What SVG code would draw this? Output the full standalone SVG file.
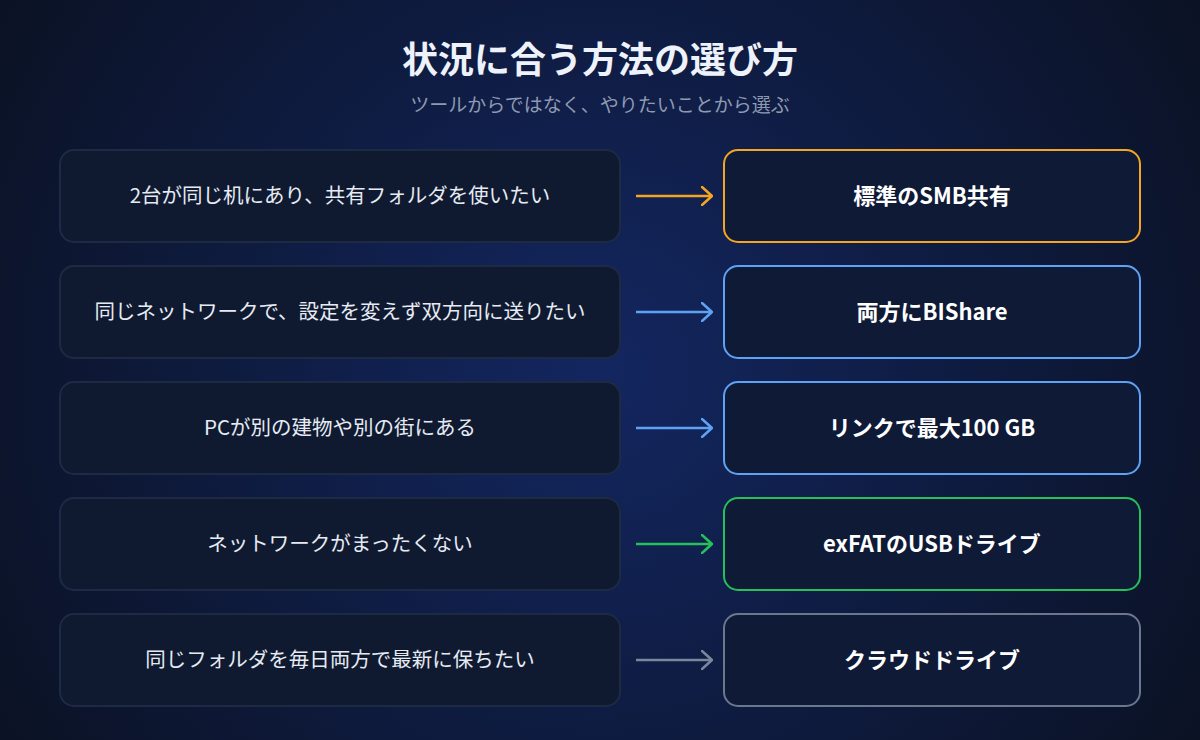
<svg xmlns="http://www.w3.org/2000/svg" width="1200" height="740" viewBox="0 0 1200 740">
<defs>
<radialGradient id="bg" cx="600" cy="370" r="700" gradientUnits="userSpaceOnUse">
<stop offset="0" stop-color="#132660"/><stop offset="0.6" stop-color="#0e1a3c"/><stop offset="1" stop-color="#0b1224"/>
</radialGradient>
<marker id="a1" viewBox="0 0 12 20" refX="11" refY="10" markerWidth="12" markerHeight="20" markerUnits="userSpaceOnUse" orient="auto"><path d="M1,1 L11,10 L1,19" fill="none" stroke="#f5a524" stroke-width="2.5" stroke-linecap="round" stroke-linejoin="round"/></marker>
<marker id="a2" viewBox="0 0 12 20" refX="11" refY="10" markerWidth="12" markerHeight="20" markerUnits="userSpaceOnUse" orient="auto"><path d="M1,1 L11,10 L1,19" fill="none" stroke="#5ea2f5" stroke-width="2.5" stroke-linecap="round" stroke-linejoin="round"/></marker>
<marker id="a3" viewBox="0 0 12 20" refX="11" refY="10" markerWidth="12" markerHeight="20" markerUnits="userSpaceOnUse" orient="auto"><path d="M1,1 L11,10 L1,19" fill="none" stroke="#26c05a" stroke-width="2.5" stroke-linecap="round" stroke-linejoin="round"/></marker>
<marker id="a4" viewBox="0 0 12 20" refX="11" refY="10" markerWidth="12" markerHeight="20" markerUnits="userSpaceOnUse" orient="auto"><path d="M1,1 L11,10 L1,19" fill="none" stroke="#7a869c" stroke-width="2.5" stroke-linecap="round" stroke-linejoin="round"/></marker>
</defs>
<style>
text{font-family:"Noto Sans CJK JP","Noto Sans",sans-serif;text-anchor:middle;dominant-baseline:central}
.l{fill:#0f1a30;stroke:#1e2a44;stroke-width:2}
.r{fill:#0f1a36;stroke-width:2}
.lt{fill:#e6ebf3;font-size:20.5px}
.rt{fill:#ffffff;font-size:22px;font-weight:700}
.c{stroke-width:2.5;fill:none}
</style>
<rect width="1200" height="740" fill="url(#bg)"/>
<text x="600" y="57" fill="#eef2fa" font-size="36" font-weight="700">状況に合う方法の選び方</text>
<text x="600" y="103" fill="#8e9ab2" font-size="19">ツールからではなく、やりたいことから選ぶ</text>
<g id="n1"><rect class="l" x="60" y="150" width="560" height="92" rx="14"/><text class="lt" x="340" y="194">2台が同じ机にあり、共有フォルダを使いたい</text></g>
<g id="m1"><rect class="r" stroke="#f5a524" x="724" y="150" width="416" height="92" rx="14"/><text class="rt" x="932" y="194">標準のSMB共有</text></g>
<g id="n2"><rect class="l" x="60" y="266" width="560" height="92" rx="14"/><text class="lt" x="340" y="310">同じネットワークで、設定を変えず双方向に送りたい</text></g>
<g id="m2"><rect class="r" stroke="#5ea2f5" x="724" y="266" width="416" height="92" rx="14"/><text class="rt" x="932" y="310">両方にBIShare</text></g>
<g id="n3"><rect class="l" x="60" y="382" width="560" height="92" rx="14"/><text class="lt" x="340" y="426">PCが別の建物や別の街にある</text></g>
<g id="m3"><rect class="r" stroke="#5ea2f5" x="724" y="382" width="416" height="92" rx="14"/><text class="rt" x="932" y="426">リンクで最大100 GB</text></g>
<g id="n4"><rect class="l" x="60" y="498" width="560" height="92" rx="14"/><text class="lt" x="340" y="542">ネットワークがまったくない</text></g>
<g id="m4"><rect class="r" stroke="#26c05a" x="724" y="498" width="416" height="92" rx="14"/><text class="rt" x="932" y="542">exFATのUSBドライブ</text></g>
<g id="n5"><rect class="l" x="60" y="614" width="560" height="92" rx="14"/><text class="lt" x="340" y="658">同じフォルダを毎日両方で最新に保ちたい</text></g>
<g id="m5"><rect class="r" stroke="#6b778c" x="724" y="614" width="416" height="92" rx="14"/><text class="rt" x="932" y="658">クラウドドライブ</text></g>
<g id="connectors">
<line class="c" stroke="#f5a524" x1="636" y1="196" x2="712" y2="196" marker-end="url(#a1)"/>
<line class="c" stroke="#5ea2f5" x1="636" y1="312" x2="712" y2="312" marker-end="url(#a2)"/>
<line class="c" stroke="#5ea2f5" x1="636" y1="428" x2="712" y2="428" marker-end="url(#a2)"/>
<line class="c" stroke="#26c05a" x1="636" y1="544" x2="712" y2="544" marker-end="url(#a3)"/>
<line class="c" stroke="#7a869c" x1="636" y1="660" x2="712" y2="660" marker-end="url(#a4)"/>
</g>
</svg>
